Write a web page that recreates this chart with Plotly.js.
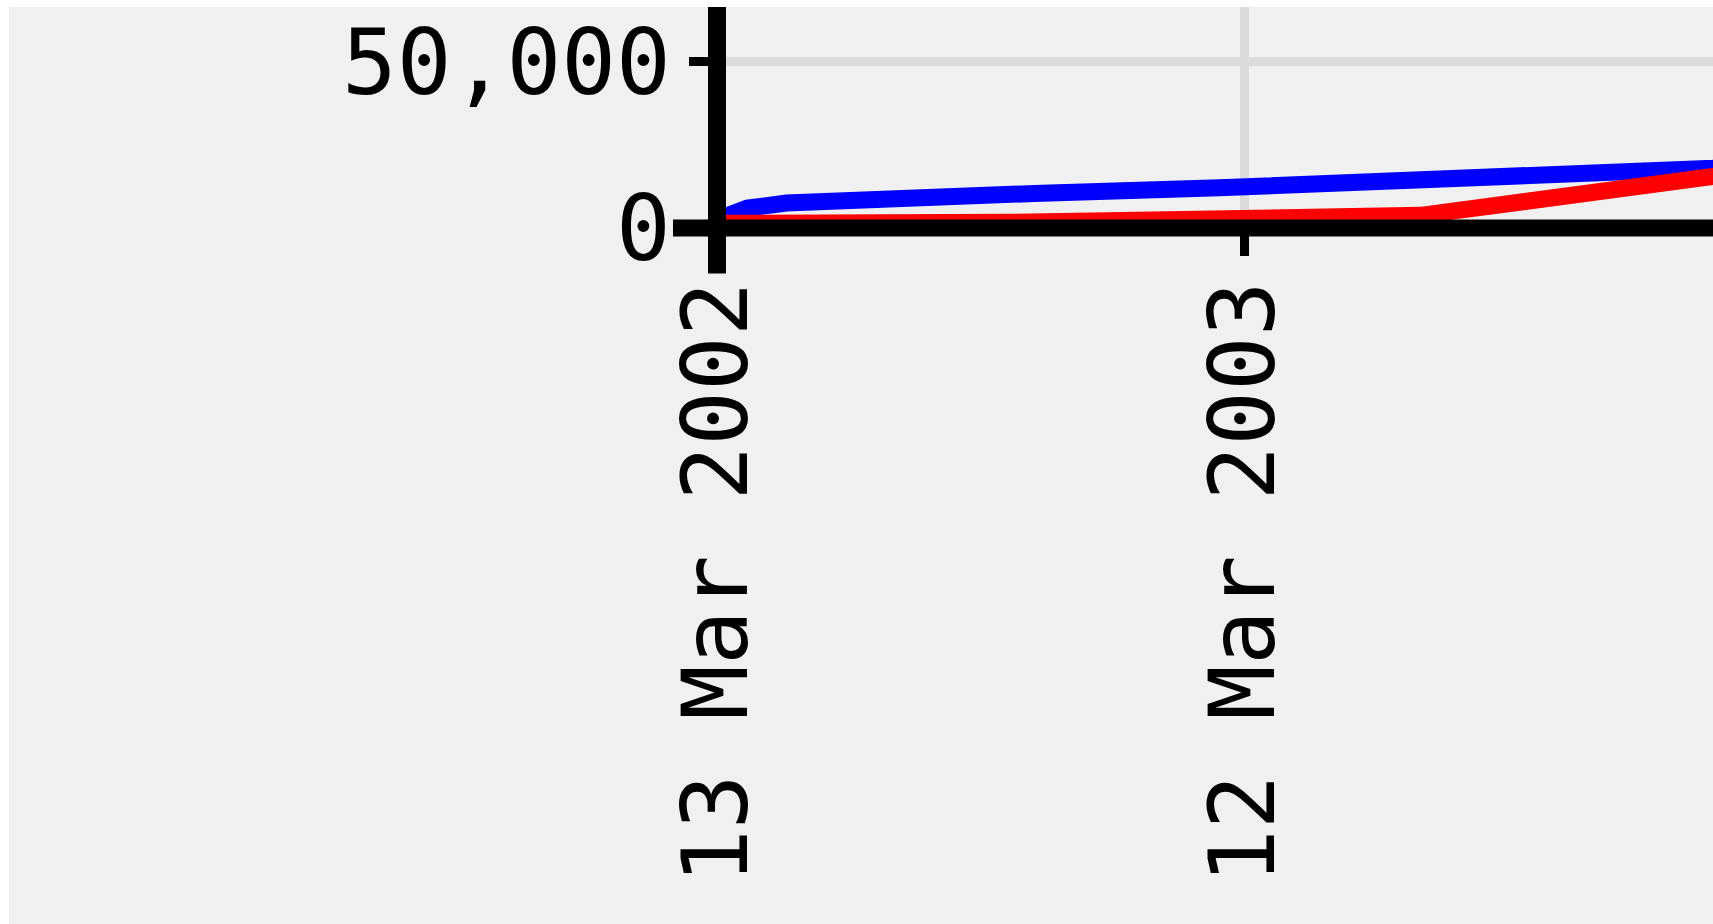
<!DOCTYPE html>
<html>
<head>
<meta charset="utf-8">
<script src="https://cdn.plot.ly/plotly-3.0.1.min.js"></script>
<style>
  html, body { margin: 0; padding: 0; background: #ffffff; overflow: hidden; }
  #chart { position: absolute; left: 9px; top: 7px; width: 1704px; height: 917px; }
</style>
</head>
<body>
<div id="chart"></div>
<script>
// Series
const blueDates  = ['2002-03-13','2002-03-20','2002-04-03','2002-04-30','2002-09-28','2002-10-18','2003-02-23','2003-07-16','2003-12-01','2004-01-30','2004-03-01'];
const blueValues = [2500, 4000, 6000, 7500, 9100, 10400, 12100, 14400, 16000, 18000, 19300];

const redDates  = ['2002-03-13','2002-10-01','2003-07-12','2003-12-01','2004-01-30','2004-03-01'];
const redValues = [1400, 1700, 3800, 11200, 15500, 17500];

// Axis ticks
const xTickDates = ['2002-03-13','2003-03-12'];
const yTickValues = [0, 50000];
const xRange = ['2002-03-13', '2004-01-29 22:30'];
const yRange = [0, 66517];

const font = 'DejaVu Sans Mono, monospace';

const traces = [
  { x: blueDates, y: blueValues, type: 'scatter', mode: 'lines',
    line: { color: '#0000ff', width: 17 }, hoverinfo: 'skip', showlegend: false },
  { x: redDates, y: redValues, type: 'scatter', mode: 'lines',
    line: { color: '#ff0000', width: 17 }, hoverinfo: 'skip', showlegend: false }
];

const layout = {
  width: 1704, height: 917,
  margin: { l: 708, r: 0, t: 0, b: 695.5, pad: 0 },
  paper_bgcolor: '#f0f0f0',
  plot_bgcolor: '#f0f0f0',
  showlegend: false,
  xaxis: {
    type: 'date',
    range: xRange,
    tickmode: 'array',
    tickvals: xTickDates,
    tickformat: '%d %b %Y',
    tickangle: -90,
    ticks: 'outside', ticklen: 27, tickwidth: 9, tickcolor: '#000000',
    ticklabelstandoff: -11,
    showgrid: true, gridcolor: '#dbdbdb', gridwidth: 9,
    zeroline: false, showline: false,
    tickfont: { family: font, size: 91, color: '#000000' },
    automargin: false, fixedrange: true
  },
  yaxis: {
    range: yRange,
    tickmode: 'array',
    tickvals: yTickValues,
    tickformat: ',d',
    ticks: 'outside', ticklen: 27, tickwidth: 9, tickcolor: '#000000',
    showgrid: true, gridcolor: '#dbdbdb', gridwidth: 9,
    zeroline: false, showline: false,
    tickfont: { family: font, size: 91, color: '#000000' },
    automargin: false, fixedrange: true
  },
  shapes: [
    { type: 'line', xref: 'paper', yref: 'paper', x0: -0.0442, x1: 1.05, y0: 0, y1: 0,
      line: { color: '#000000', width: 17 }, layer: 'above' },
    { type: 'line', xref: 'paper', yref: 'paper', x0: 0, x1: 0, y0: -0.2054, y1: 1.1,
      line: { color: '#000000', width: 18 }, layer: 'above' }
  ]
};

Plotly.newPlot('chart', traces, layout, { displayModeBar: false, staticPlot: true });
</script>
</body>
</html>
